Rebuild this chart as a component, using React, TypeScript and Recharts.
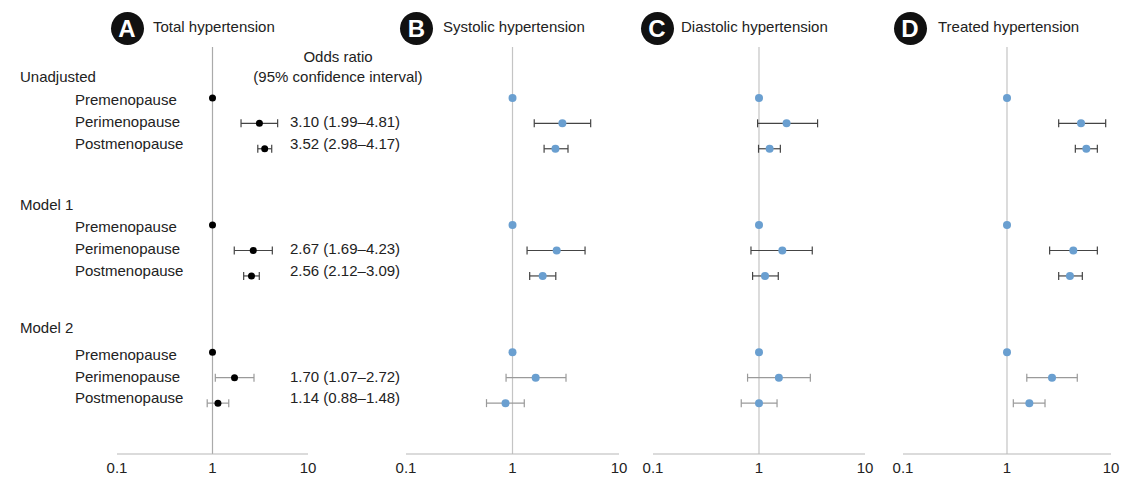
import React from 'react';
import { ScatterChart, Scatter, XAxis, YAxis, ErrorBar, ReferenceLine } from 'recharts';

// ---------- data ----------
const groups = ['Unadjusted', 'Model 1', 'Model 2'];
const stages = ['Premenopause', 'Perimenopause', 'Postmenopause'];
const panelLetters = ['A', 'B', 'C', 'D'];
const panelTitles = ['Total hypertension', 'Systolic hypertension', 'Diastolic hypertension', 'Treated hypertension'];
const xTicks = [0.1, 1, 10];
const orHeader = ['Odds ratio', '(95% confidence interval)'];

const totalOR = [1, 3.10, 3.52, 1, 2.67, 2.56, 1, 1.70, 1.14];
const totalLow = [1, 1.99, 2.98, 1, 1.69, 2.12, 1, 1.07, 0.88];
const totalHigh = [1, 4.81, 4.17, 1, 4.23, 3.09, 1, 2.72, 1.48];

const systolicOR = [1, 2.94, 2.53, 1, 2.60, 1.92, 1, 1.65, 0.86];
const systolicLow = [1, 1.60, 1.98, 1, 1.37, 1.45, 1, 0.87, 0.57];
const systolicHigh = [1, 5.42, 3.32, 1, 4.80, 2.55, 1, 3.18, 1.29];

const diastolicOR = [1, 1.82, 1.26, 1, 1.66, 1.14, 1, 1.54, 1.00];
const diastolicLow = [1, 0.97, 0.99, 1, 0.84, 0.87, 1, 0.78, 0.68];
const diastolicHigh = [1, 3.57, 1.59, 1, 3.18, 1.52, 1, 3.05, 1.48];

const treatedOR = [1, 5.15, 5.79, 1, 4.34, 4.03, 1, 2.71, 1.64];
const treatedLow = [1, 3.14, 4.54, 1, 2.57, 3.14, 1, 1.55, 1.15];
const treatedHigh = [1, 8.89, 7.39, 1, 7.39, 5.30, 1, 4.74, 2.32];

const panelValues = [
  [totalOR, totalLow, totalHigh],
  [systolicOR, systolicLow, systolicHigh],
  [diastolicOR, diastolicLow, diastolicHigh],
  [treatedOR, treatedLow, treatedHigh],
];

// ---------- layout ----------
const FONT = 'Arial, "Liberation Sans", Helvetica, sans-serif';
const H = 488;
const PLOTS = [[117, 308], [406, 619], [653, 865], [903, 1111]];
const BADGE_CX = [127, 416.5, 657, 910];
const TITLE_X = [153, 443, 681, 938];
const GROUP_STEP = 5;
const HEADER_OFFSET = [-0.84, -0.8, -0.96];
const STAGE_LABEL_OFFSET = [0.08, -0.05, -0.2];
const OR_HEADER_Y = [-1.63, -0.85];
const Y_DOMAIN = [-2, 14];

const rowY = (g: number, s: number) => g * GROUP_STEP + s;

function buildGroup(p: number, g: number) {
  const [or, lo, hi] = panelValues[p];
  return stages.map((st, s) => {
    const i = g * 3 + s;
    return {
      x: or[i],
      y: rowY(g, s),
      err: s === 0 ? null : [or[i] - lo[i], hi[i] - or[i]],
    };
  });
}

type Lab = { left?: { text: string; header: boolean }; right?: { text: string; header: boolean } };
const labels: Record<string, Lab> = {};
const addLab = (y: number, side: 'left' | 'right', text: string, header: boolean) => {
  const k = String(Math.round(y * 1000) / 1000);
  if (!labels[k]) labels[k] = {};
  labels[k][side] = { text, header };
};
groups.forEach((g, gi) => {
  addLab(gi * GROUP_STEP + HEADER_OFFSET[gi], 'left', g, true);
  stages.forEach((s, si) => {
    const ly = rowY(gi, si) + STAGE_LABEL_OFFSET[si];
    addLab(ly, 'left', s, false);
    if (si > 0) {
      const i = gi * 3 + si;
      addLab(
        ly,
        'right',
        `${totalOR[i].toFixed(2)} (${totalLow[i].toFixed(2)}\u2013${totalHigh[i].toFixed(2)})`,
        false,
      );
    }
  });
});
orHeader.forEach((t, i) => addLab(OR_HEADER_Y[i], 'right', t, true));
const labelTicks = Object.keys(labels).map(Number);

const LabelTick = (props: any) => {
  const lab = labels[String(Math.round(props.payload.value * 1000) / 1000)];
  if (!lab) return null;
  return (
    <g>
      {lab.left && (
        <text x={lab.left.header ? 20 : 75} y={props.y} dy="0.35em" textAnchor="start" fontSize={15} fill="#222" fontFamily={FONT}>
          {lab.left.text}
        </text>
      )}
      {lab.right && (
        <text
          x={lab.right.header ? 338 : 290}
          y={props.y}
          dy="0.35em"
          textAnchor={lab.right.header ? 'middle' : 'start'}
          fontSize={15}
          fill="#222"
          fontFamily={FONT}
        >
          {lab.right.text}
        </text>
      )}
    </g>
  );
};

function Panel({ p }: { p: number }) {
  const [pl, pr] = PLOTS[p];
  const isA = p === 0;
  const rightW = 130;
  const chartLeft = isA ? 0 : pl - 20;
  const width = isA ? pr + rightW : pr - pl + 40;
  const dotColor = isA ? '#000' : '#6a9fd0';
  const r = isA ? 3.5 : 4;
  const errColors = ['#444', '#444', '#9a9a9a'];
  return (
    <div style={{ position: 'absolute', left: chartLeft, top: 0 }}>
      <ScatterChart
        width={width}
        height={H}
        margin={{ top: 47, bottom: 4, left: isA ? 0 : 20, right: isA ? rightW : 20 }}
      >
        <XAxis
          type="number"
          dataKey="x"
          scale="log"
          domain={[0.1, 10]}
          ticks={xTicks}
          allowDataOverflow
          interval={0}
          tickFormatter={(v: number) => String(v)}
          axisLine={{ stroke: '#b8b8b8', strokeWidth: 1.2 }}
          tickLine={false}
          tick={{ fontSize: 15, fill: '#222', fontFamily: FONT }}
          height={30}
        />
        <YAxis
          yAxisId="l"
          type="number"
          dataKey="y"
          domain={Y_DOMAIN}
          reversed
          hide={!isA}
          width={isA ? pl : 0}
          ticks={labelTicks}
          interval={0}
          tick={<LabelTick />}
          axisLine={false}
          tickLine={false}
        />
        <ReferenceLine yAxisId="l" x={1} stroke={isA ? '#aaaaaa' : '#c4c4c4'} strokeWidth={1.2} />
        {groups.map((g, gi) => (
          <Scatter
            key={g}
            yAxisId="l"
            name={g}
            data={buildGroup(p, gi)}
            isAnimationActive={false}
            shape={(sp: any) => <circle cx={sp.cx} cy={sp.cy} r={r} fill={dotColor} />}
          >
            <ErrorBar
              dataKey="err"
              direction="x"
              width={4}
              stroke={errColors[gi]}
              strokeWidth={1.2}
              isAnimationActive={false}
            />
          </Scatter>
        ))}
      </ScatterChart>
    </div>
  );
}

function Title({ p }: { p: number }) {
  return (
    <>
      <div
        style={{
          position: 'absolute',
          left: BADGE_CX[p] - 16.5,
          top: 28 - 16.5,
          width: 33,
          height: 33,
          borderRadius: '50%',
          background: '#111',
          color: '#fff',
          fontFamily: FONT,
          fontWeight: 700,
          fontSize: 24,
          lineHeight: '33px',
          textAlign: 'center',
        }}
      >
        {panelLetters[p]}
      </div>
      <div
        style={{
          position: 'absolute',
          left: TITLE_X[p],
          top: 27 - 10,
          height: 20,
          lineHeight: '20px',
          fontFamily: FONT,
          fontSize: 15,
          color: '#222',
          whiteSpace: 'nowrap',
        }}
      >
        {panelTitles[p]}
      </div>
    </>
  );
}

export default function App() {
  return (
    <div style={{ position: 'absolute', left: 0, top: 0, width: 1135, height: H, background: '#fff', overflow: 'hidden' }}>
      {[0, 1, 2, 3].map((p) => (
        <Panel key={p} p={p} />
      ))}
      {[0, 1, 2, 3].map((p) => (
        <Title key={'t' + p} p={p} />
      ))}
    </div>
  );
}
